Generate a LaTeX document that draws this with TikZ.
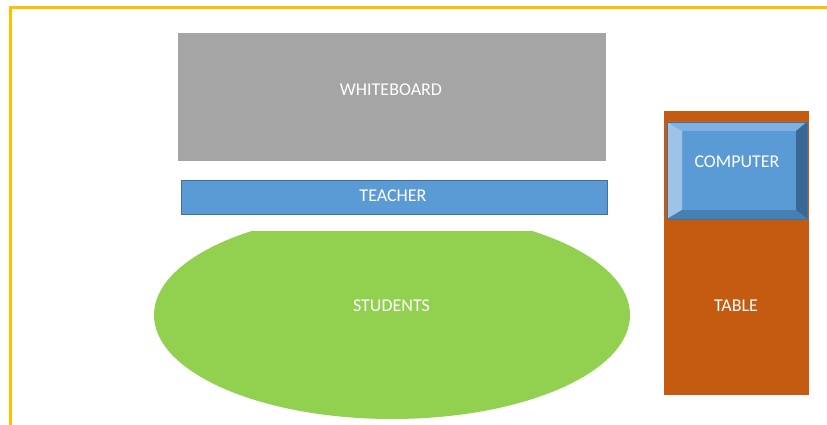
\documentclass[tikz,border=0pt]{standalone}
\usepackage{fontspec}
\setmainfont{Carlito}
\definecolor{frameY}{HTML}{FFC000}
\definecolor{wbgray}{HTML}{A5A5A5}
\definecolor{tblue}{HTML}{5B9BD5}
\definecolor{tblueD}{HTML}{41719C}
\definecolor{sgreen}{HTML}{92D050}
\definecolor{torange}{HTML}{C55A11}
\definecolor{bevT}{HTML}{7EB1E1}
\definecolor{bevL}{HTML}{9DC3E6}
\definecolor{bevR}{HTML}{3A6894}
\definecolor{bevB}{HTML}{487FB3}
\tikzset{
  lbl/.style={text=white, font=\fontsize{18}{20}\selectfont},
}
\begin{document}
\begin{tikzpicture}[x=1pt,y=-1pt]
\useasboundingbox (0,0) rectangle (827,425);
% frame
\draw[frameY, line width=3pt] (10.5,425) -- (10.5,8) -- (827,8);
% whiteboard
\fill[wbgray] (178,33) rectangle (606,161);
\node[lbl] (wb) at (391,90) {WHITEBOARD};
% teacher
\draw[fill=tblue, draw=tblueD, line width=0.8pt] (181,180) rectangle (607,214);
\node[lbl] (teacher) at (393,196) {TEACHER};
% students
\begin{scope}
\clip (100,231) rectangle (700,425);
\fill[sgreen] (392,315) ellipse [x radius=238, y radius=104];
\end{scope}
\node[lbl] (students) at (391.5,306) {STUDENTS};
% table
\fill[torange] (664,111) rectangle (809,395);
\node[lbl] (table) at (736,306) {TABLE};
% computer bevel
\fill[tblue] (667,122) rectangle (807,219);
\fill[bevT] (667,122) -- (807,122) -- (796,131) -- (682,131) -- cycle;
\fill[bevL] (667,122) -- (682,131) -- (682,210) -- (667,219) -- cycle;
\fill[bevR] (807,122) -- (796,131) -- (796,210) -- (807,219) -- cycle;
\fill[bevB] (667,219) -- (682,210) -- (796,210) -- (807,219) -- cycle;
\draw[tblueD, line width=0.6pt] (667,122) rectangle (807,219);
\node[lbl] (computer) at (737,162) {COMPUTER};
\end{tikzpicture}
\end{document}
